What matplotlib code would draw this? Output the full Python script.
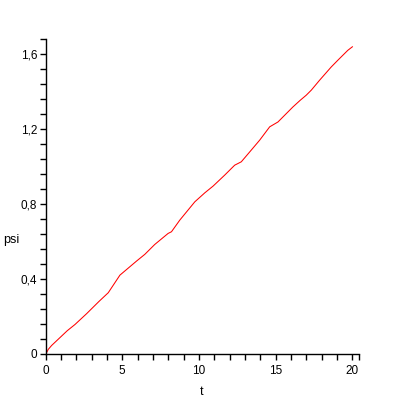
import numpy as np
import matplotlib.pyplot as plt
from matplotlib.ticker import MultipleLocator, FixedLocator, FuncFormatter

# valores
t = [0.0, 0.08, 0.18, 0.40, 1.42, 1.92, 2.68, 3.48, 4.09, 4.85, 5.93, 6.47, 7.12,
     7.99, 8.21, 8.75, 9.73, 10.38, 10.92, 11.68, 12.33, 12.76, 13.31, 13.96,
     14.61, 15.15, 16.12, 16.60, 16.99, 17.32, 17.86, 18.62, 19.05, 19.70, 20.0]
psi = [0.0, 0.006, 0.022, 0.043, 0.122, 0.155, 0.213, 0.278, 0.325, 0.419, 0.494,
       0.530, 0.583, 0.642, 0.651, 0.713, 0.811, 0.859, 0.895, 0.954, 1.007, 1.025,
       1.078, 1.141, 1.212, 1.238, 1.318, 1.354, 1.381, 1.408, 1.461, 1.532, 1.568,
       1.621, 1.640]

X_FIN = 20.45

plt.rcParams['font.family'] = ['Liberation Sans', 'DejaVu Sans']

fig = plt.figure(figsize=(4, 4), dpi=100)
ax = fig.add_axes([45.5 / 400, 46.5 / 400, 313.8 / 400, 314.2 / 400])

ax.plot(t, psi, color="red", linewidth=0.75)

ax.set_xlim(0, X_FIN)
ax.set_ylim(0, 1.68)

for lado in ["top", "right"]:
    ax.spines[lado].set_visible(False)
for lado in ["left", "bottom"]:
    ax.spines[lado].set_linewidth(1)

ax.xaxis.set_major_locator(MultipleLocator(5))
ax.xaxis.set_minor_locator(FixedLocator(list(range(0, 21)) + [X_FIN]))
ax.yaxis.set_major_locator(MultipleLocator(0.4))
ax.yaxis.set_minor_locator(MultipleLocator(0.08))

coma = FuncFormatter(lambda v, p: ("%g" % round(v, 2)).replace(".", ","))
ax.xaxis.set_major_formatter(coma)
ax.yaxis.set_major_formatter(coma)

ax.tick_params(which="both", direction="out", length=4, width=1, labelsize=8.5)
ax.tick_params(axis="x", which="major", pad=4)
ax.tick_params(axis="y", which="major", pad=2)

ax.set_xlabel("t", fontsize=9)
ax.set_ylabel("psi", fontsize=9, rotation=0, va="center")
ax.xaxis.set_label_coords(0.498, -0.105)
ax.yaxis.set_label_coords(-0.11, 0.36)

fig.savefig("out.png", dpi=100)
